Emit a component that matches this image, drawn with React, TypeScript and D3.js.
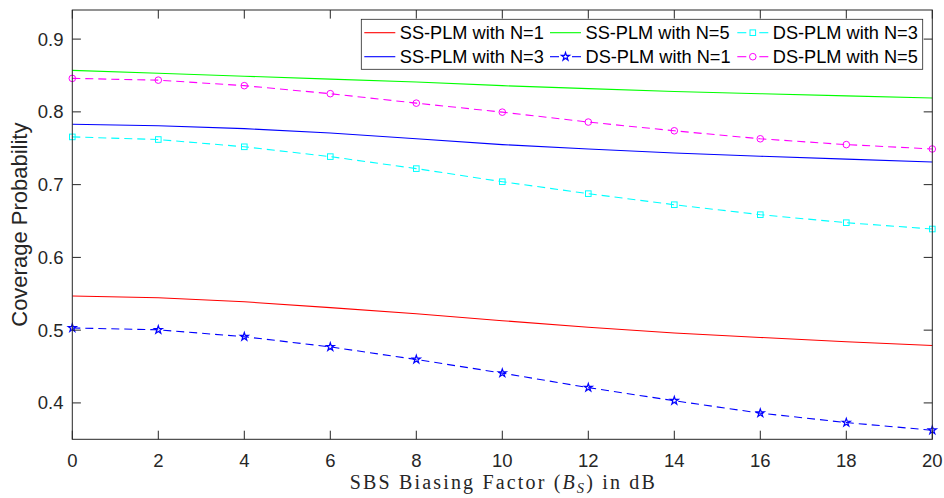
import React from 'react';
import * as d3 from 'd3';

const xValues = [0, 2, 4, 6, 8, 10, 12, 14, 16, 18, 20];
const ssN1 = [0.547, 0.5445, 0.539, 0.531, 0.5225, 0.513, 0.504, 0.496, 0.49, 0.484, 0.479];
const ssN3 = [0.783, 0.781, 0.777, 0.771, 0.763, 0.755, 0.749, 0.7435, 0.739, 0.735, 0.731];
const ssN5 = [0.857, 0.853, 0.849, 0.845, 0.841, 0.836, 0.832, 0.828, 0.825, 0.822, 0.819];
const dsN1 = [0.503, 0.5005, 0.491, 0.477, 0.4597, 0.441, 0.421, 0.403, 0.386, 0.373, 0.3624];
const dsN3 = [0.7656, 0.762, 0.752, 0.7385, 0.722, 0.704, 0.6876, 0.6724, 0.6587, 0.6477, 0.639];
const dsN5 = [0.846, 0.8436, 0.836, 0.825, 0.812, 0.7996, 0.786, 0.774, 0.763, 0.755, 0.749];

const xTicks = [0, 2, 4, 6, 8, 10, 12, 14, 16, 18, 20];
const yTicks = [0.4, 0.5, 0.6, 0.7, 0.8, 0.9];
const legendNames = [
  'SS-PLM with N=1',
  'SS-PLM with N=5',
  'DS-PLM with N=3',
  'SS-PLM with N=3',
  'DS-PLM with N=1',
  'DS-PLM with N=5',
];

type Series = { name: string; values: number[]; color: string; dashed: boolean; marker: string | null };

const series: Series[] = [
  { name: legendNames[0], values: ssN1, color: '#ff0000', dashed: false, marker: null },
  { name: legendNames[1], values: ssN5, color: '#00ff00', dashed: false, marker: null },
  { name: legendNames[2], values: dsN3, color: '#00ffff', dashed: true, marker: 'square' },
  { name: legendNames[3], values: ssN3, color: '#0000ff', dashed: false, marker: null },
  { name: legendNames[4], values: dsN1, color: '#0000ff', dashed: true, marker: 'star' },
  { name: legendNames[5], values: dsN5, color: '#ff00ff', dashed: true, marker: 'circle' },
];

const W = 944;
const H = 498;
const L = 72.3, R = 932.3, T = 10, B = 439.3;
const axisColor = '#262626';
const TL = 8.6;

const x = d3.scaleLinear().domain([0, 20]).range([L, R]);
const y = d3.scaleLinear().domain([0.35, 0.94]).range([B, T]);

const starPath = d3.symbol().type(d3.symbolStar).size(20)() as string;

function Marker({ kind, cx, cy, color }: { kind: string; cx: number; cy: number; color: string }) {
  if (kind === 'circle') return <circle cx={cx} cy={cy} r={3.3} fill="none" stroke={color} strokeWidth={1} />;
  if (kind === 'square') return <rect x={cx - 2.8} y={cy - 2.8} width={5.6} height={5.6} fill="none" stroke={color} strokeWidth={1} />;
  return <path d={starPath} transform={`translate(${cx},${cy})`} fill="none" stroke={color} strokeWidth={1.2} />;
}

export default function App() {
  const line = d3.line<number>().x((_, i) => x(xValues[i])).y((d) => y(d));
  const legendCols = [364.3, 550, 737.3];
  const legendRows = [32.7, 56.7];
  const sampleLen = 31;
  return (
    <svg width={W} height={H} style={{ position: 'absolute', left: 0, top: 0, background: '#fff' }} fontFamily="'Liberation Sans', Arial, sans-serif">
      <rect x={0} y={0} width={W} height={H} fill="#fff" />
      {series.map((s) => (
        <g key={s.name}>
          <path d={line(s.values) as string} fill="none" stroke={s.color} strokeWidth={1.1} strokeDasharray={s.dashed ? '8,5' : undefined} />
          {s.marker && s.values.map((v, i) => <Marker key={i} kind={s.marker as string} cx={x(xValues[i])} cy={y(v)} color={s.color} />)}
        </g>
      ))}
      <rect x={L} y={T} width={R - L} height={B - T} fill="none" stroke={axisColor} strokeWidth={1} />
      {xTicks.map((t) => (
        <g key={'x' + t}>
          <line x1={x(t)} x2={x(t)} y1={B} y2={B - TL} stroke={axisColor} />
          <line x1={x(t)} x2={x(t)} y1={T} y2={T + TL} stroke={axisColor} />
          <text x={x(t)} y={466.7} textAnchor="middle" fontSize={18.5} fill={axisColor}>{t}</text>
        </g>
      ))}
      {yTicks.map((t) => (
        <g key={'y' + t}>
          <line x1={L} x2={L + TL} y1={y(t)} y2={y(t)} stroke={axisColor} />
          <line x1={R} x2={R - TL} y1={y(t)} y2={y(t)} stroke={axisColor} />
          <text x={63.5} y={y(t)} dy="0.35em" textAnchor="end" fontSize={18.5} fill={axisColor}>{t.toFixed(1)}</text>
        </g>
      ))}
      <text transform={`translate(26.7,${(T + B) / 2}) rotate(-90)`} textAnchor="middle" fontSize={22} fill={axisColor}>Coverage Probability</text>
      <text x={(L + R) / 2} y={488.5} textAnchor="middle" fontSize={20} fill={axisColor} fontFamily="'Liberation Serif', 'Times New Roman', serif" textLength={305} lengthAdjust="spacing">
        SBS Biasing Factor (<tspan fontStyle="italic">B</tspan><tspan fontStyle="italic" fontSize={14.5} dy={4}>S</tspan><tspan dy={-4}>) in dB</tspan>
      </text>
      <rect x={361.3} y={19.3} width={561.4} height={50} fill="#fff" stroke={axisColor} strokeWidth={0.8} />
      {series.map((s, i) => {
        const col = i % 3;
        const row = Math.floor(i / 3);
        const x0 = legendCols[col];
        const cy = legendRows[row];
        const cx = x0 + sampleLen / 2;
        return (
          <g key={'leg' + s.name}>
            {s.dashed ? (
              <>
                <line x1={x0} x2={x0 + 9} y1={cy} y2={cy} stroke={s.color} strokeWidth={1.1} />
                <line x1={x0 + sampleLen - 9} x2={x0 + sampleLen} y1={cy} y2={cy} stroke={s.color} strokeWidth={1.1} />
                <Marker kind={s.marker as string} cx={cx} cy={cy} color={s.color} />
              </>
            ) : (
              <line x1={x0} x2={x0 + sampleLen} y1={cy} y2={cy} stroke={s.color} strokeWidth={1.1} />
            )}
            <text x={x0 + sampleLen + 4.5} y={cy + 6.6} fontSize={18.2} fill="#000">{s.name}</text>
          </g>
        );
      })}
    </svg>
  );
}
